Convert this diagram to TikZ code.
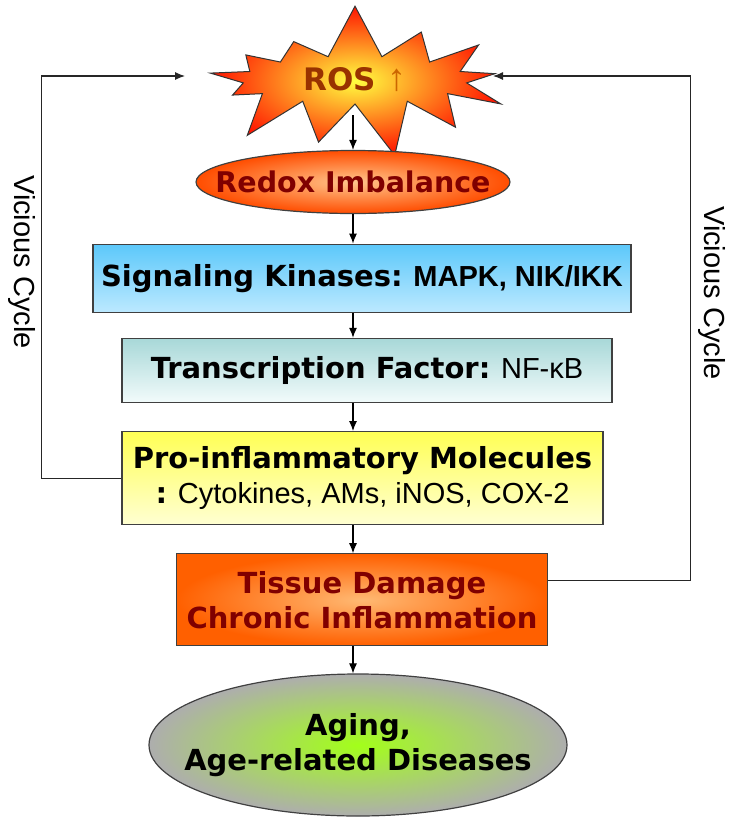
\documentclass[tikz,border=0pt]{standalone}
\usepackage{fontspec}
\setmainfont{Liberation Sans}
\newfontfamily\heavy{DejaVu Sans}
\usetikzlibrary{arrows.meta,positioning,shapes.geometric,shapes.symbols}
\definecolor{rosbrown}{HTML}{993300}
\definecolor{rosup}{HTML}{CC6600}
\definecolor{darkred}{HTML}{800000}
\definecolor{skyA}{HTML}{5CC8FA}
\definecolor{skyB}{HTML}{BCE9FF}
\definecolor{tealA}{HTML}{A8D8D8}
\definecolor{tealB}{HTML}{F2FBFB}
\definecolor{yelA}{HTML}{FFFF55}
\definecolor{yelB}{HTML}{FFFFD2}
\newcommand{\hv}[1]{{\heavy\bfseries #1}}
\tikzset{
  >={Latex[length=10pt,width=8pt]},
  box/.style={draw=black!75,line width=1.2pt,align=center,inner sep=0pt},
  arrow/.style={->,line width=1.1pt},
  loop/.style={->,line width=1.1pt,draw=black!85},
  big/.style={font=\fontsize{29}{35}\selectfont},
}
\begin{document}
\begin{tikzpicture}
			\useasboundingbox (0,0) rectangle (729pt,-817pt);
			\node[starburst,starburst points=13,starburst point height=55pt,random starburst=7,minimum width=335pt,minimum height=158pt,
				draw=black!80,line width=1pt,shade,inner color=yellow!75!white,outer color=red!85!orange] (ros) at (355pt,-80pt)
				{\fontsize{31}{35}\selectfont\color{rosbrown}\hv{ROS}\hspace{12pt}{\fontsize{38}{40}\selectfont\color{rosup}↑}};
			\node[ellipse,box,inner xsep=-50pt,minimum width=314pt,minimum height=63pt,
				shade,inner color=orange!45!white,outer color=orange!60!red,font=\fontsize{28.5}{32}\selectfont] (redox) at (353pt,-182pt)
				{\color{darkred}\hv{Redox Imbalance}};
			\node[box,big,minimum width=538pt,minimum height=68pt,top color=skyA,bottom color=skyB,
				below=29.5pt of redox,xshift=9pt] (sig) {\hv{Signaling Kinases:} \textbf{MAPK, NIK/IKK}};
			\node[box,big,minimum width=490pt,minimum height=64pt,top color=tealA,bottom color=tealB,
				below=25pt of sig,xshift=5pt] (tf) {\hv{Transcription Factor:} NF-κB};
			\node[box,big,minimum width=481pt,minimum height=93pt,top color=yelA,bottom color=yelB,
				below=28pt of tf,xshift=-4.5pt] (pim) {\hv{Pro-inflammatory Molecules}\\\hv{:} Cytokines, AMs, iNOS, COX-2};
			\node[box,big,minimum width=371pt,minimum height=92pt,shade,inner color=orange!55!white,outer color=orange!75!red,
				below=28pt of pim,xshift=-0.5pt] (tissue) {\color{darkred}\hv{Tissue Damage}\\\color{darkred}\hv{Chronic Inflammation}};
			\node[ellipse,box,big,inner xsep=-70pt,minimum width=418pt,minimum height=142pt,
				shade,inner color=green!40!yellow!90!white,outer color=black!32,
				below=27pt of tissue,xshift=-4pt] (aging) {\hv{Aging,}\\\hv{Age-related Diseases}};
			\node[rotate=-90,font=\fontsize{29}{33}\selectfont] (vcl) at (22pt,-262pt) {Vicious Cycle};
			\node[rotate=-90,font=\fontsize{29}{33}\selectfont] (vcr) at (712pt,-293pt) {Vicious Cycle};
			\coordinate (lin) at (185pt,-76pt);
			\coordinate (rin) at (493pt,-76pt);
			% main chain
			\draw[arrow] ([xshift=-2pt,yshift=-35pt]ros.center) -- (redox.north);
			\draw[arrow] (redox.south) -- (redox.south |- sig.north);
			\draw[arrow] (redox.south |- sig.south) -- (redox.south |- tf.north);
			\draw[arrow] (redox.south |- tf.south) -- (redox.south |- pim.north);
			\draw[arrow] (redox.south |- pim.south) -- (redox.south |- tissue.north);
			\draw[arrow] (redox.south |- tissue.south) -- (redox.south |- aging.north);
			% feedback loops
			\draw[loop] (pim.west) -- ++(-80pt,0) |- (lin);
			\draw[loop] ([yshift=19pt]tissue.east) -- ++(142pt,0) |- (rin);
		\end{tikzpicture}
\end{document}
